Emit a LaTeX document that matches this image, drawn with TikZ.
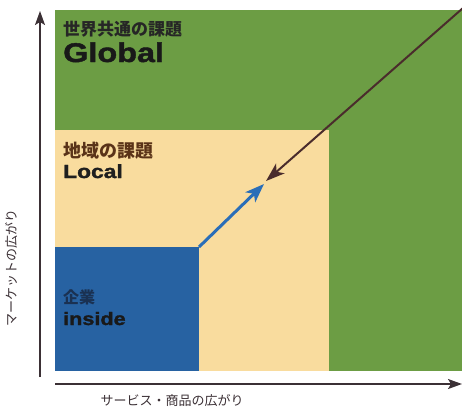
\documentclass[tikz,border=0pt]{standalone}
\usepackage{fontspec}
\usepackage{xcolor}
\usetikzlibrary{arrows.meta}
\newfontfamily\jpfont{Noto Sans CJK JP}
\newfontfamily\widefont[FakeStretch=1.2,FakeBold=1.6]{Liberation Sans Bold}

\definecolor{globalgreen}{HTML}{6C9D44}
\definecolor{localyellow}{HTML}{F9DC9E}
\definecolor{insideblue}{HTML}{2762A2}
\definecolor{arrowblue}{HTML}{2A6EB8}
\definecolor{arrowbrown}{HTML}{4A2C2C}
\definecolor{axiscol}{HTML}{3B3035}
\definecolor{localbrown}{HTML}{5A3318}
\definecolor{insidetext}{HTML}{1A3152}

\begin{document}
\begin{tikzpicture}[x=1pt,y=-1pt,
  axis/.style={draw=axiscol, line width=1.5pt, -{Stealth[length=14pt,width=10pt,inset=3pt]}},
  jtitle/.style={inner sep=0pt, anchor=west, font=\fontsize{17}{17}\selectfont\jpfont\bfseries},
  jaxis/.style={inner sep=0pt, text=axiscol, font=\fontsize{13}{13}\selectfont\jpfont},
  etitle/.style={inner sep=0pt, anchor=base west, font=\widefont}]
\useasboundingbox (0,0) rectangle (462,410);

% areas
\fill[globalgreen] (55,10) rectangle (462,371);
\fill[localyellow] (55,130) rectangle (329,371);
\fill[insideblue] (55,247) rectangle (199,371);

% axes
\coordinate (yfoot) at (40,377);
\coordinate (ytip) at (40,11);
\coordinate (xfoot) at (55,384);
\coordinate (xtip) at (462,384);
\draw[axis] (yfoot) -- (ytip);
\draw[axis] (xfoot) -- (xtip);
\node[jaxis, rotate=90] (market) at (12,268) {マーケットの広がり};
\node[jaxis] (service) at (172,401) {サービス・商品の広がり};

% arrows
\coordinate (corner) at (199,247);
\coordinate (bluetip) at (264,184);
\coordinate (topright) at (463,8);
\coordinate (browntip) at (266,181);
\draw[arrowblue, line width=3pt, -{Stealth[length=19pt,width=14pt,inset=5pt]}] (corner) -- (bluetip);
\draw[arrowbrown, line width=2pt, -{Stealth[length=19pt,width=13pt,inset=5pt]}] (topright) -- (browntip);

% labels
\node[jtitle, text=black!85] (globalja) at (63,29) {世界共通の課題};
\node[etitle, text=black!90, font=\fontsize{27}{27}\selectfont\widefont] (global) at (63,62) {Global};
\node[jtitle, text=localbrown, font=\fontsize{18}{18}\selectfont\jpfont\bfseries] (localja) at (63,150.5) {地域の課題};
\node[etitle, text=black!88, font=\fontsize{19}{19}\selectfont\widefont] (local) at (63,178) {Local};
\node[jtitle, text=insidetext, font=\fontsize{16}{16}\selectfont\jpfont\bfseries] (insideja) at (63,297) {企業};
\node[etitle, text=black!90, font=\fontsize{18}{18}\selectfont\widefont] (inside) at (63,325) {inside};
\end{tikzpicture}
\end{document}
